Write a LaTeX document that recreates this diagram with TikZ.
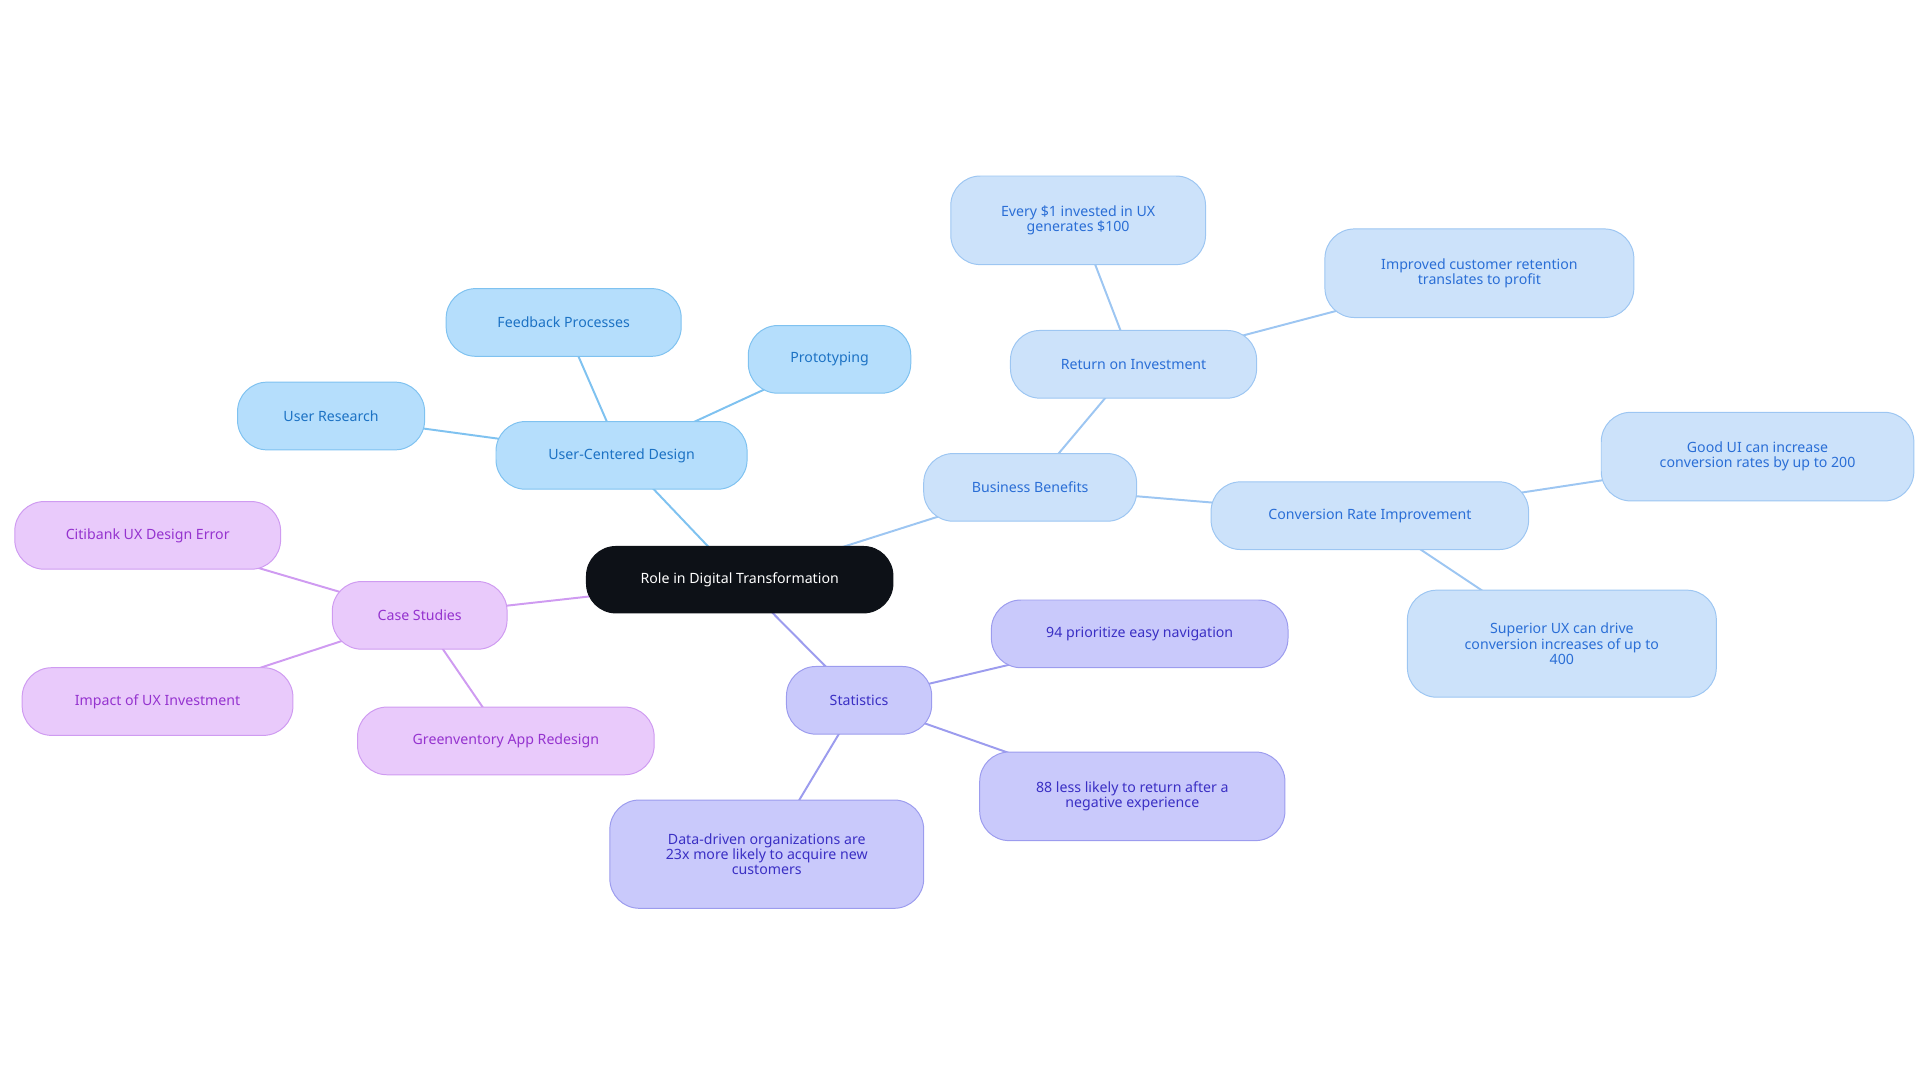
\documentclass[tikz,border=0pt]{standalone}
\usepackage{fontspec}
\setmainfont{Noto Sans}
\definecolor{bF}{HTML}{B5DEFC}\definecolor{bD}{HTML}{7FC2F0}\definecolor{bT}{HTML}{1C72C4}
\definecolor{lF}{HTML}{CCE2FA}\definecolor{lD}{HTML}{9DC6F2}\definecolor{lT}{HTML}{2A6ED6}
\definecolor{pF}{HTML}{C9C9FB}\definecolor{pD}{HTML}{9C9CEE}\definecolor{pT}{HTML}{3A2FC4}
\definecolor{mF}{HTML}{E9CAFB}\definecolor{mD}{HTML}{CF9BF1}\definecolor{mT}{HTML}{9533CF}
\definecolor{rootc}{HTML}{0D1117}
\tikzset{
 bx/.style={rounded corners=24pt,line width=0.8pt,align=center,inner sep=0pt,font=\fontsize{11.5}{12.5}\selectfont},
 bb/.style={bx,fill=bF,draw=bD,text=bT},
 lb/.style={bx,fill=lF,draw=lD,text=lT},
 pb/.style={bx,fill=pF,draw=pD,text=pT},
 mb/.style={bx,fill=mF,draw=mD,text=mT},
 eb/.style={bD,line width=1.6pt},
 el/.style={lD,line width=1.6pt},
 ep/.style={pD,line width=1.6pt},
 em/.style={mD,line width=1.6pt},
}
\newcommand{\nd}[6]{\node[#1,minimum width=#4pt,minimum height=#5pt] (#2) at (#3) {#6};}
\begin{document}
\begin{tikzpicture}[x=1pt,y=-1pt]
\useasboundingbox (0,0) rectangle (1560,880);
\coordinate (cRoot) at (601,471);
\coordinate (cUCD) at (505,370);\coordinate (cFB) at (458,262);\coordinate (cPR) at (674,292);\coordinate (cUR) at (269,338);
\coordinate (cBB) at (837,396);\coordinate (cROI) at (921,296);\coordinate (cEV) at (876,179);\coordinate (cIM) at (1202,222);
\coordinate (cCR) at (1113,419);\coordinate (cGU) at (1428,371);\coordinate (cSU) at (1269,523);
\coordinate (cST) at (698,569);\coordinate (cN94) at (926,515);\coordinate (cN88) at (920,647);\coordinate (cDD) at (623,694);
\coordinate (cCS) at (341,500);\coordinate (cCI) at (120,435);\coordinate (cIU) at (128,570);\coordinate (cGR) at (411,602);
\draw[eb] (cRoot)--(cUCD) (cUCD)--(cFB) (cUCD)--(cPR) (cUCD)--(cUR);
\draw[el] (cRoot)--(cBB) (cBB)--(cROI) (cROI)--(cEV) (cROI)--(cIM) (cBB)--(cCR) (cCR)--(cGU) (cCR)--(cSU);
\draw[ep] (cRoot)--(cST) (cST)--(cN94) (cST)--(cN88) (cST)--(cDD);
\draw[em] (cRoot)--(cCS) (cCS)--(cCI) (cCS)--(cIU) (cCS)--(cGR);
\node[bx,fill=rootc,draw=rootc,text=white,minimum width=249pt,minimum height=54pt] (root) at (cRoot) {Role in Digital Transformation};
\nd{bb}{ucd}{cUCD}{204}{55}{User-Centered Design}
\nd{bb}{fb}{cFB}{191}{55}{Feedback Processes}
\nd{bb}{pr}{cPR}{132}{55}{Prototyping}
\nd{bb}{ur}{cUR}{152}{55}{User Research}
\nd{lb}{bb}{cBB}{173}{55}{Business Benefits}
\nd{lb}{roi}{cROI}{200}{55}{Return on Investment}
\nd{lb}{ev}{cEV}{207}{72}{Every \$1 invested in UX\\generates \$100}
\nd{lb}{im}{cIM}{251}{72}{Improved customer retention\\translates to profit}
\nd{lb}{cr}{cCR}{258}{55}{Conversion Rate Improvement}
\nd{lb}{gu}{cGU}{254}{72}{Good UI can increase\\conversion rates by up to 200}
\nd{lb}{su}{cSU}{251}{87}{Superior UX can drive\\conversion increases of up to\\400}
\nd{pb}{st}{cST}{118}{55}{Statistics}
\nd{pb}{n94}{cN94}{241}{55}{94 prioritize easy navigation}
\nd{pb}{n88}{cN88}{248}{72}{88 less likely to return after a\\negative experience}
\nd{pb}{dd}{cDD}{255}{88}{Data-driven organizations are\\23x more likely to acquire new\\customers}
\nd{mb}{cs}{cCS}{142}{55}{Case Studies}
\nd{mb}{ci}{cCI}{216}{55}{Citibank UX Design Error}
\nd{mb}{iu}{cIU}{220}{55}{Impact of UX Investment}
\nd{mb}{gr}{cGR}{241}{55}{Greenventory App Redesign}
\end{tikzpicture}
\end{document}
